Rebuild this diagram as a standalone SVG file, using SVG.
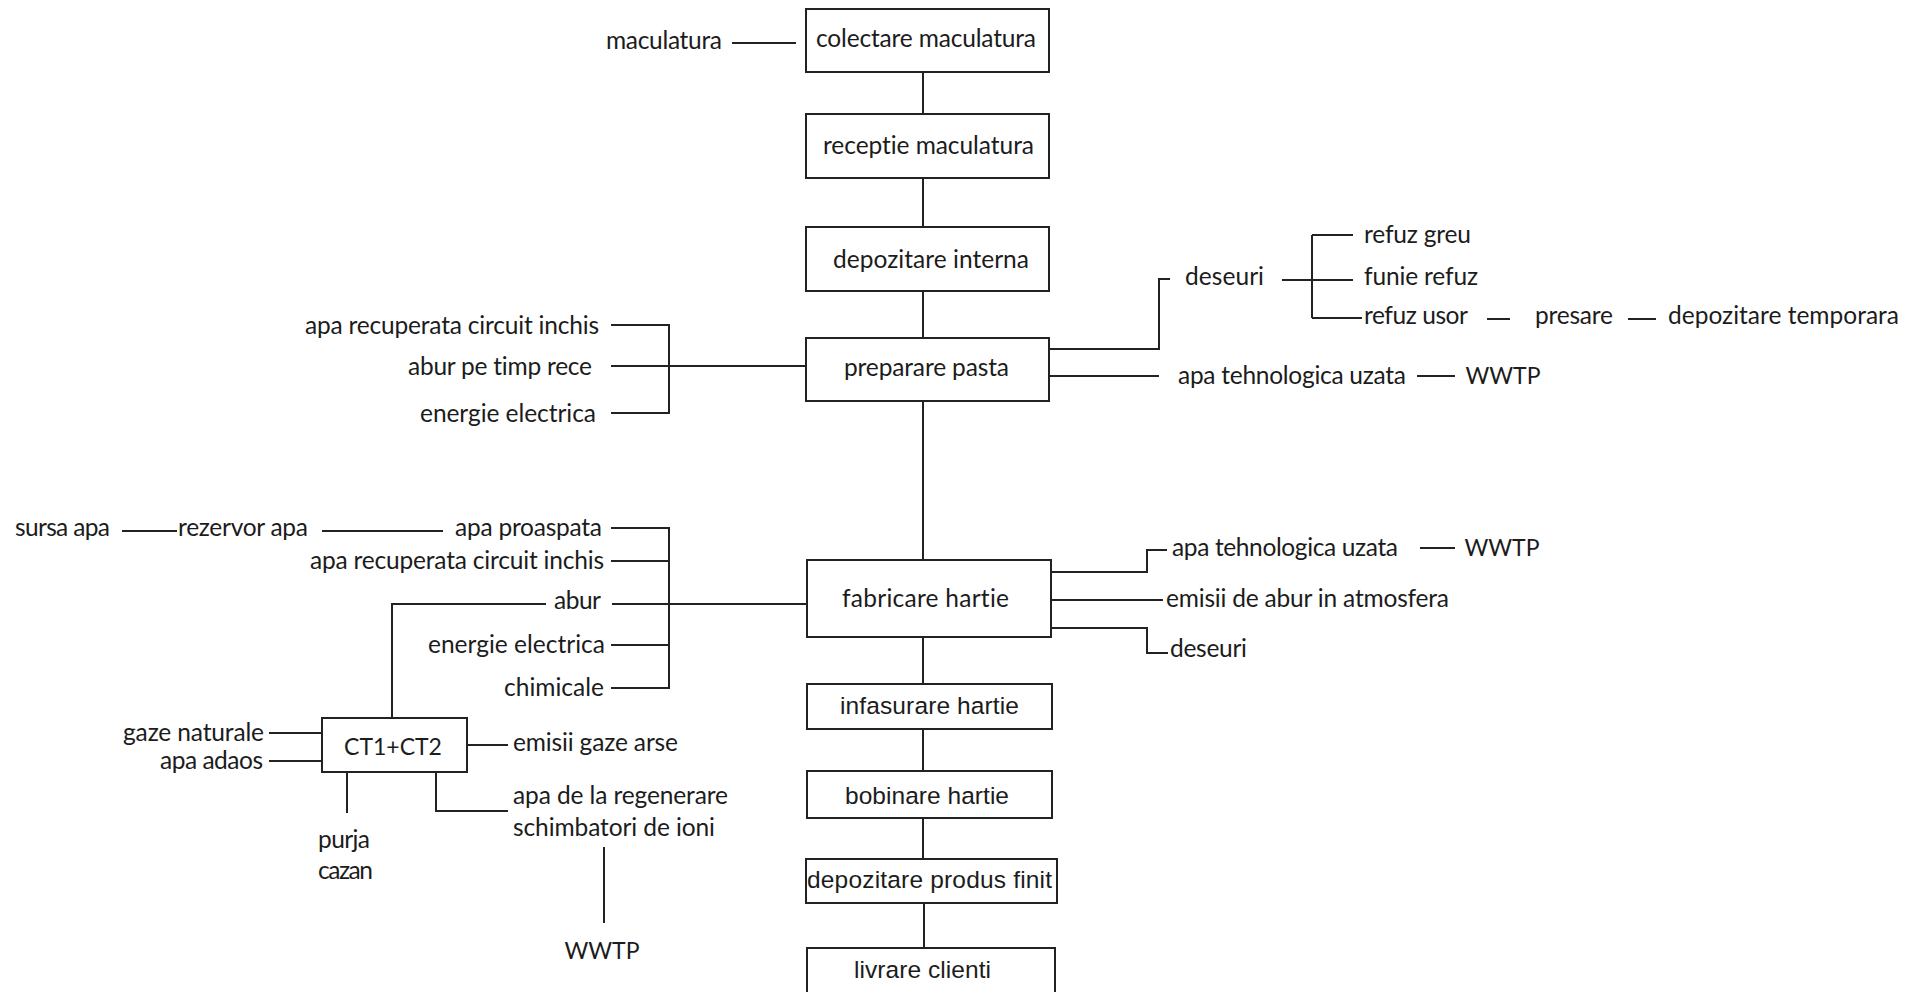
<svg xmlns="http://www.w3.org/2000/svg" width="1923" height="992" viewBox="0 0 1923 992">
<style>
.box{fill:#fff;stroke:#222;stroke-width:2}
.c{fill:none;stroke:#222;stroke-width:2}
.t{font-family:Lato,"Liberation Sans",sans-serif;font-size:24.5px;fill:#1c1c1c;font-variant-ligatures:none}
.u{font-family:Lato,"Liberation Sans",sans-serif;font-size:23px;fill:#1c1c1c;text-anchor:middle}
.a{font-family:"Liberation Sans",Arial,sans-serif;font-size:24.5px;fill:#1c1c1c}
</style>
<rect width="1923" height="992" fill="#fff"/>
<g id="connectors">
<path class="c" d="M732 43H796"/>
<path class="c" d="M923 71V114M923 178V227M923 291V338M923 401V560M923 637V684M923 729V771M923 818V859M924 903V948"/>
<path class="c" d="M611 325H669V413H611M611 366H806"/>
<path class="c" d="M1049 349H1159V279H1170M1049 376H1159"/>
<path class="c" d="M1282 280H1353M1312 235V318M1312 235H1353M1312 318H1362"/>
<path class="c" d="M1487 319H1510M1628 319H1656"/>
<path class="c" d="M1417 376H1455"/>
<path class="c" d="M122 531H177M322 531H443"/>
<path class="c" d="M611 528H669V688H611M611 561H669M611 645H669M612 604H807"/>
<path class="c" d="M546 604H392V718"/>
<path class="c" d="M269 733H322M269 761H322"/>
<path class="c" d="M467 745H508"/>
<path class="c" d="M347 772V813M436 772V811H508"/>
<path class="c" d="M604 847V923"/>
<path class="c" d="M1051 572H1147V550H1167M1051 600H1163M1051 628H1147V653H1168"/>
<path class="c" d="M1420 548H1455"/>
</g>
<g id="colectare"><rect class="box" x="806" y="9" width="243" height="63"/><text class="t" x="816" y="47" textLength="220">colectare maculatura</text></g>
<g id="receptie"><rect class="box" x="806" y="114" width="243" height="64"/><text class="t" x="823" y="154" textLength="211">receptie maculatura</text></g>
<g id="depozitare-interna"><rect class="box" x="806" y="227" width="243" height="64"/><text class="t" x="833" y="268" textLength="196">depozitare interna</text></g>
<g id="preparare"><rect class="box" x="806" y="338" width="243" height="63"/><text class="t" x="844" y="376" textLength="165">preparare pasta</text></g>
<g id="fabricare"><rect class="box" x="807" y="560" width="244" height="77"/><text class="t" x="842" y="607" textLength="167">fabricare hartie</text></g>
<g id="infasurare"><rect class="box" x="807" y="684" width="245" height="45"/><text class="a" x="840" y="714" textLength="179">infasurare hartie</text></g>
<g id="bobinare"><rect class="box" x="807" y="771" width="245" height="47"/><text class="a" x="845" y="804" textLength="164">bobinare hartie</text></g>
<g id="depozitare-produs"><rect class="box" x="806" y="859" width="251" height="44"/><text class="a" x="807" y="888" textLength="245">depozitare produs finit</text></g>
<g id="livrare"><rect class="box" x="807" y="948" width="248" height="46"/><text class="a" x="854" y="978" textLength="137">livrare clienti</text></g>
<g id="ct"><rect class="box" x="322" y="718" width="145" height="54"/><text class="u" x="393" y="755">CT1+CT2</text></g>
<g id="maculatura"><text class="t" x="606" y="49" textLength="116">maculatura</text></g>
<g id="pp-apa-rec"><text class="t" x="305" y="334" textLength="294">apa recuperata circuit inchis</text></g>
<g id="pp-abur"><text class="t" x="408" y="375" textLength="184">abur pe timp rece</text></g>
<g id="pp-energie"><text class="t" x="420" y="422" textLength="176">energie electrica</text></g>
<g id="pp-deseuri"><text class="t" x="1185" y="285" textLength="79">deseuri</text></g>
<g id="refuz-greu"><text class="t" x="1364" y="243" textLength="107">refuz greu</text></g>
<g id="funie-refuz"><text class="t" x="1364" y="285" textLength="114">funie refuz</text></g>
<g id="refuz-usor"><text class="t" x="1364" y="324" textLength="104">refuz usor</text></g>
<g id="presare"><text class="t" x="1535" y="324" textLength="78">presare</text></g>
<g id="depozitare-temporara"><text class="t" x="1668" y="324" textLength="231">depozitare temporara</text></g>
<g id="pp-apa-uzata"><text class="t" x="1178" y="384" textLength="228">apa tehnologica uzata</text></g>
<g id="pp-wwtp"><text class="u" x="1503" y="384">WWTP</text></g>
<g id="sursa-apa"><text class="t" x="15" y="536" textLength="95">sursa apa</text></g>
<g id="rezervor-apa"><text class="t" x="178" y="536" textLength="130">rezervor apa</text></g>
<g id="apa-proaspata"><text class="t" x="455" y="536" textLength="147">apa proaspata</text></g>
<g id="fh-apa-rec"><text class="t" x="310" y="569" textLength="294">apa recuperata circuit inchis</text></g>
<g id="fh-abur"><text class="t" x="554" y="609" textLength="47">abur</text></g>
<g id="fh-energie"><text class="t" x="428" y="653" textLength="177">energie electrica</text></g>
<g id="chimicale"><text class="t" x="504" y="696" textLength="100">chimicale</text></g>
<g id="gaze-naturale"><text class="t" x="123" y="741" textLength="141">gaze naturale</text></g>
<g id="apa-adaos"><text class="t" x="160" y="769" textLength="103">apa adaos</text></g>
<g id="emisii-gaze"><text class="t" x="513" y="751" textLength="165">emisii gaze arse</text></g>
<g id="purja"><text class="t" x="318" y="848" textLength="52">purja</text><text class="t" x="318" y="879" textLength="55">cazan</text></g>
<g id="apa-regenerare"><text class="t" x="513" y="804" textLength="215">apa de la regenerare</text><text class="t" x="513" y="836" textLength="202">schimbatori de ioni</text></g>
<g id="ct-wwtp"><text class="u" x="602" y="959">WWTP</text></g>
<g id="fh-apa-uzata"><text class="t" x="1172" y="556" textLength="226">apa tehnologica uzata</text></g>
<g id="fh-wwtp"><text class="u" x="1502" y="556">WWTP</text></g>
<g id="emisii-abur"><text class="t" x="1166" y="607" textLength="283">emisii de abur in atmosfera</text></g>
<g id="fh-deseuri"><text class="t" x="1170" y="657" textLength="77">deseuri</text></g>
</svg>
